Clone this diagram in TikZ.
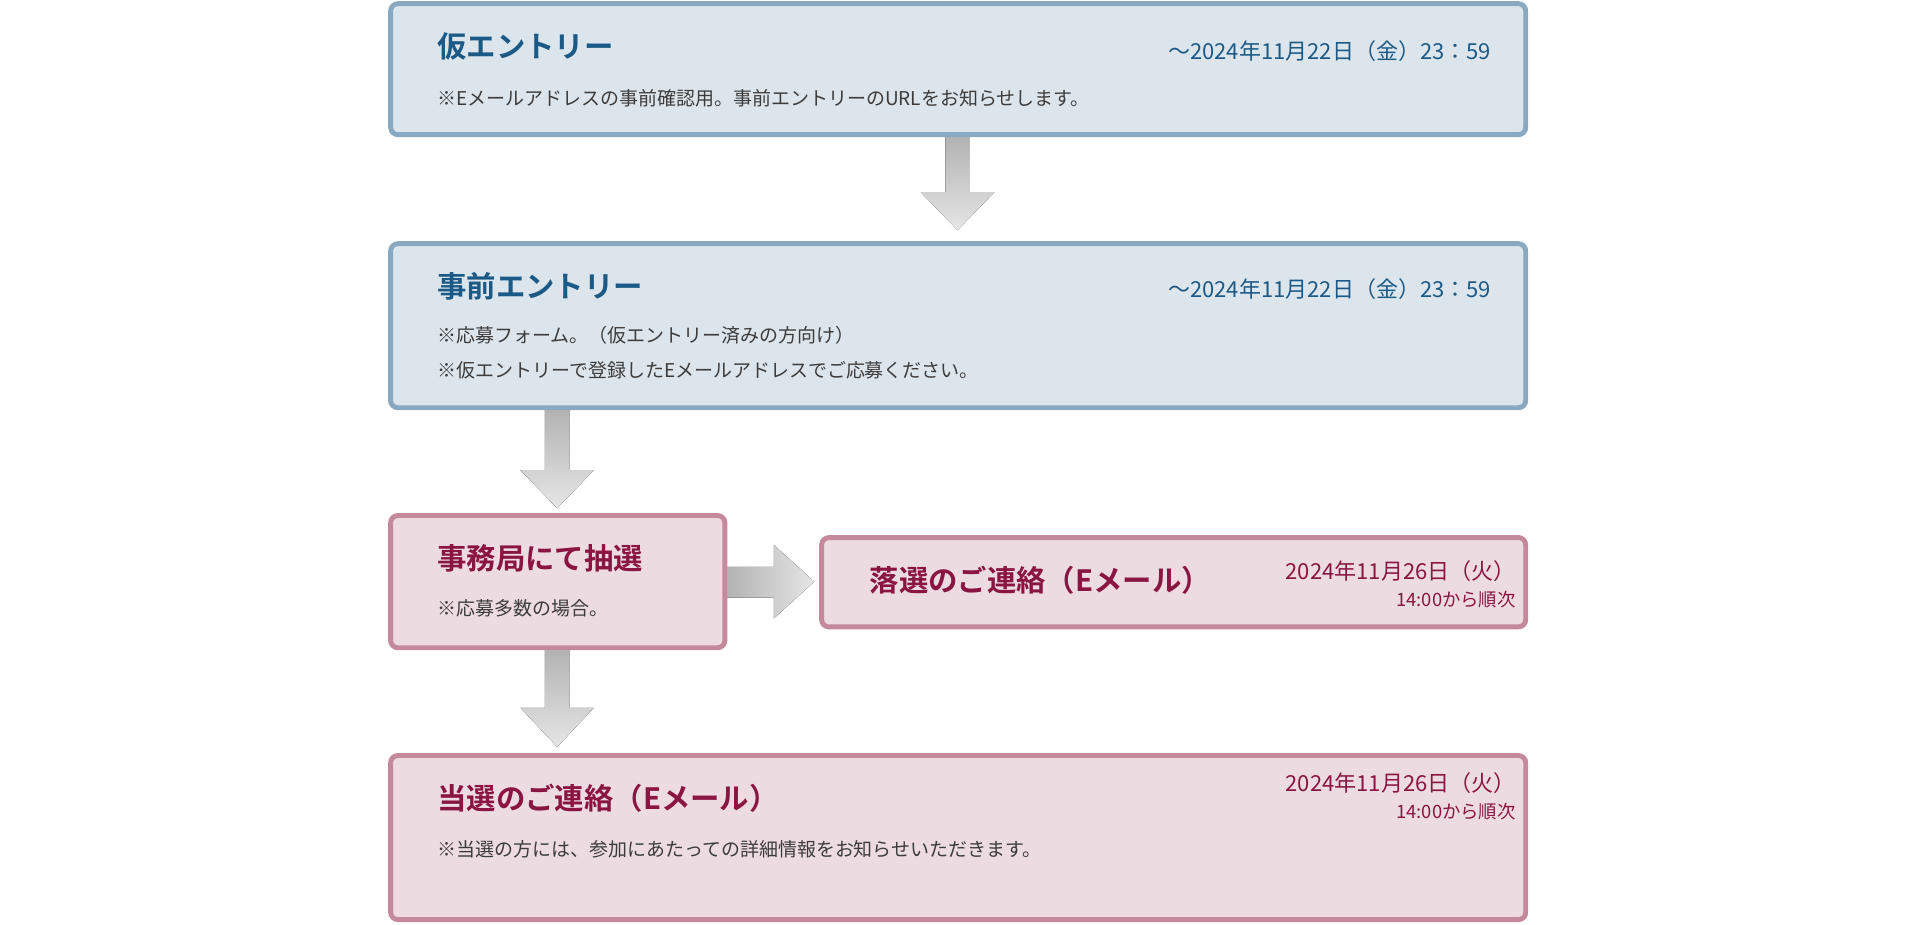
\documentclass[tikz,border=0pt]{standalone}
\usepackage{fontspec}
\setmainfont{Noto Sans CJK JP}
\newfontfamily\jpbold{Noto Sans CJK JP Bold}
\usetikzlibrary{calc}
\definecolor{bluefill}{HTML}{DCE5EC}
\definecolor{blueline}{HTML}{88A9C1}
\definecolor{bluetext}{HTML}{1B5A87}
\definecolor{pinkfill}{HTML}{ECDBE1}
\definecolor{pinkline}{HTML}{C4899B}
\definecolor{pinktext}{HTML}{8A1540}
\definecolor{notetext}{HTML}{3C3C3C}
\tikzset{
	bluebox/.style={draw=blueline,fill=bluefill,line width=4pt,rounded corners=6pt},
	pinkbox/.style={draw=pinkline,fill=pinkfill,line width=4pt,rounded corners=6pt},
	title/.style={anchor=west,inner sep=0pt,font=\jpbold\fontsize{24}{28}\selectfont},
	note/.style={anchor=west,inner sep=0pt,align=left,text=notetext,font=\fontsize{15.5}{28}\selectfont},
	datetext/.style={anchor=east,inner sep=0pt,align=right,font=\fontsize{18}{22}\selectfont},
	flow/.style={top color=gray!60,bottom color=gray!20,draw=none}
}
\begin{document}
\begin{tikzpicture}[x=1pt,y=-1pt]
	\useasboundingbox (0,0) rectangle (1568,755);
	% boxes
	\draw[bluebox] (319,3) rectangle (1246,110) node[pos=0,inner sep=0pt] (b1) {};
	\draw[bluebox] (319,199) rectangle (1246,333);
	\draw[pinkbox] (319,421) rectangle (592,529);
	\draw[pinkbox] (671,439) rectangle (1246,512);
	\draw[pinkbox] (319,617) rectangle (1246,751);
	% texts
	\node[title,text=bluetext] (t1) at (357,38) {仮エントリー};
	\node[datetext,text=bluetext] (d1) at (1218,42) {～2024年11月22日（金）23：59};
	\node[note] (n1) at (357,80) {※Eメールアドレスの事前確認用。事前エントリーのURLをお知らせします。};
	\node[title,text=bluetext] (t2) at (357,234) {事前エントリー};
	\node[datetext,text=bluetext] (d2) at (1218,236) {～2024年11月22日（金）23：59};
	\node[note] (n2) at (357,288) {※応募フォーム。（仮エントリー済みの方向け）\\※仮エントリーで登録したEメールアドレスでご応募ください。};
	\node[title,text=pinktext] (t3) at (357,456) {事務局にて抽選};
	\node[note] (n3) at (357,497) {※応募多数の場合。};
	\node[title,text=pinktext] (t4) at (710,474) {落選のご連絡（Eメール）};
	\node[datetext,text=pinktext] (d4) at (1238,477) {2024年11月26日（火）\\\fontsize{15}{18}\selectfont 14:00から順次\hspace{10pt}};
	\node[title,text=pinktext] (t5) at (357,652) {当選のご連絡（Eメール）};
	\node[datetext,text=pinktext] (d5) at (1238,650) {2024年11月26日（火）\\\fontsize{15}{18}\selectfont 14:00から順次\hspace{10pt}};
	\node[note] (n5) at (357,694) {※当選の方には、参加にあたっての詳細情報をお知らせいただきます。};
	% arrows
	\foreach \cx/\ya/\yb/\yc in {782/112/157/188, 455/335/384/415, 455/531/578/610}
		\fill[flow] (\cx-10,\ya) -- (\cx+10,\ya) -- (\cx+10,\yb) -- (\cx+30,\yb) -- (\cx,\yc) -- (\cx-30,\yb) -- (\cx-10,\yb) -- cycle;
	\fill[left color=gray!60,right color=gray!20] (594,463) -- (632,463) -- (632,445) -- (665,475) -- (632,505) -- (632,488) -- (594,488) -- cycle;
\end{tikzpicture}
\end{document}
